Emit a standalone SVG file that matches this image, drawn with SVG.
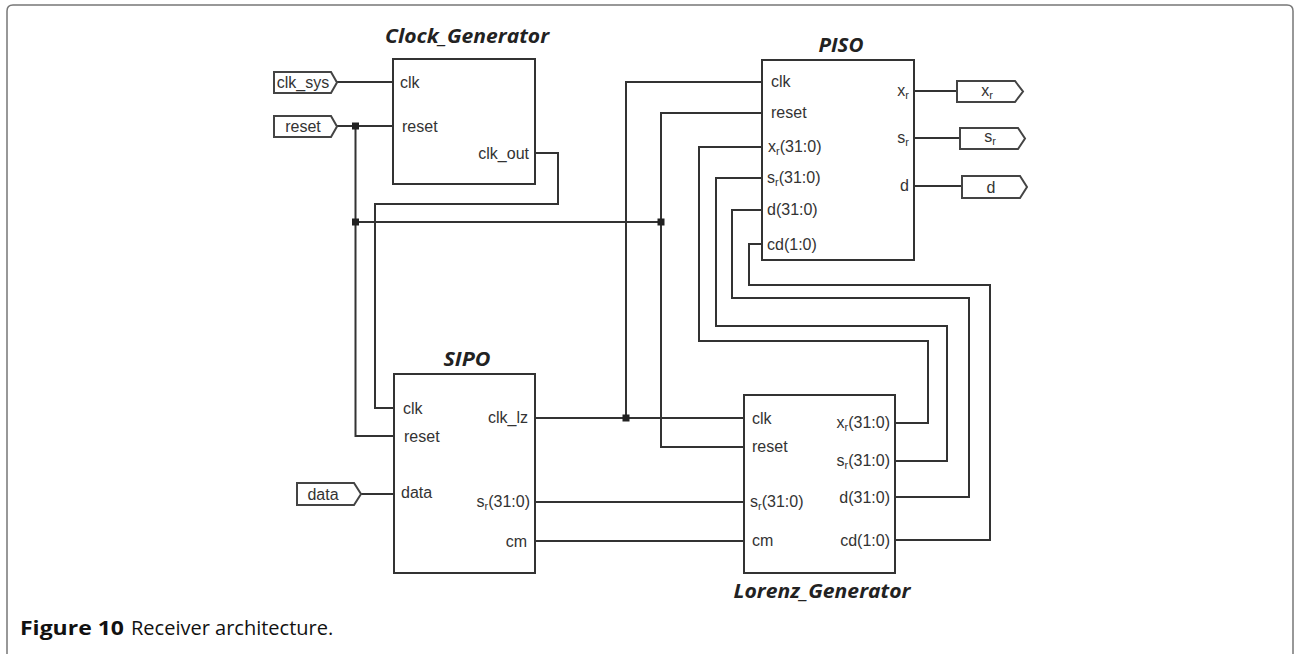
<svg xmlns="http://www.w3.org/2000/svg" width="1294" height="654" viewBox="0 0 1294 654">
<style>
.box{fill:#fff;stroke:#333;stroke-width:2}
.w{fill:none;stroke:#333;stroke-width:2}
.tag{fill:#fff;stroke:#444;stroke-width:2}
.t{font-family:"Liberation Sans",Arial,sans-serif;font-size:16px;fill:#333}
.e{text-anchor:end}
.m{text-anchor:middle}
.sub{font-size:11px}
.title{font-family:"Open Sans","Liberation Sans",sans-serif;font-size:19px;font-weight:bold;font-style:italic;fill:#222;text-anchor:middle}
.cap{font-family:"Open Sans","Noto Sans",sans-serif;font-size:20px;fill:#111}
.dot{fill:#222}
</style>
<rect width="1294" height="654" fill="#fff"/>
<path d="M7,654 V11 Q7,5 13,5 H1287 Q1293,5 1293,11 V654" fill="none" stroke="#777" stroke-width="1.5"/>

<g id="connectors">
<path class="w" d="M337,82 H393"/>
<path class="w" d="M337,126 H393"/>
<path class="w" d="M355.5,126 V436 H394"/>
<path class="w" d="M535,153 H558 V204 H375 V408 H394"/>
<path class="w" d="M355.5,222 H661"/>
<path class="w" d="M762,82 H626 V418"/>
<path class="w" d="M535,418 H744"/>
<path class="w" d="M762,113 H661 V447 H744"/>
<path class="w" d="M762,147 H699 V341 H928 V423 H895"/>
<path class="w" d="M762,178 H716 V326 H947 V461 H895"/>
<path class="w" d="M762,210 H732 V298 H969 V497 H895"/>
<path class="w" d="M762,244 H749 V285 H990 V540 H895"/>
<path class="w" d="M535,502 H744"/>
<path class="w" d="M535,541 H744"/>
<path class="w" d="M361,494 H394"/>
<path class="w" d="M914,91 H957"/>
<path class="w" d="M914,138 H960"/>
<path class="w" d="M914,186 H962"/>
<rect class="dot" x="352" y="122.5" width="7" height="7"/>
<rect class="dot" x="352" y="218.5" width="7" height="7"/>
<rect class="dot" x="657.5" y="218.5" width="7" height="7"/>
<rect class="dot" x="622.5" y="414.5" width="7" height="7"/>
</g>

<g id="in_clk_sys">
<path class="tag" d="M274,72 H331 L337,82.5 L331,93 H274 Z"/>
<text class="t m" x="303" y="88">clk_sys</text>
</g>
<g id="in_reset">
<path class="tag" d="M274,116 H331 L337,126.5 L331,137 H274 Z"/>
<text class="t m" x="303" y="132">reset</text>
</g>
<g id="in_data">
<path class="tag" d="M297,483 H354 L361,494 L354,505 H297 Z"/>
<text class="t m" x="323" y="500">data</text>
</g>
<g id="out_xr">
<path class="tag" d="M957,81 H1015 L1023,91.5 L1015,102 H957 Z"/>
<text class="t m" x="987" y="96">x<tspan class="sub" dy="3">r</tspan></text>
</g>
<g id="out_sr">
<path class="tag" d="M960,128 H1018 L1025,138.5 L1018,149 H960 Z"/>
<text class="t m" x="990" y="142">s<tspan class="sub" dy="3">r</tspan></text>
</g>
<g id="out_d">
<path class="tag" d="M962,176 H1020 L1027,187 L1020,198 H962 Z"/>
<text class="t m" x="991" y="193">d</text>
</g>

<g id="Clock_Generator">
<text class="title" x="467" y="43" textLength="164" lengthAdjust="spacingAndGlyphs">Clock_Generator</text>
<rect class="box" x="393" y="59" width="142" height="125"/>
<text class="t" x="400" y="88">clk</text>
<text class="t" x="402" y="132">reset</text>
<text class="t e" x="529" y="159">clk_out</text>
</g>

<g id="PISO">
<text class="title" x="841" y="52" textLength="45" lengthAdjust="spacingAndGlyphs">PISO</text>
<rect class="box" x="762" y="60" width="152" height="200"/>
<text class="t" x="771" y="87">clk</text>
<text class="t" x="771" y="118">reset</text>
<text class="t" x="768" y="152">x<tspan class="sub" dy="3">r</tspan><tspan dy="-3">(31:0)</tspan></text>
<text class="t" x="767" y="183">s<tspan class="sub" dy="3">r</tspan><tspan dy="-3">(31:0)</tspan></text>
<text class="t" x="767" y="215">d(31:0)</text>
<text class="t" x="767" y="250">cd(1:0)</text>
<text class="t e" x="909" y="96">x<tspan class="sub" dy="3">r</tspan></text>
<text class="t e" x="909" y="143">s<tspan class="sub" dy="3">r</tspan></text>
<text class="t e" x="909" y="191">d</text>
</g>

<g id="SIPO">
<text class="title" x="467" y="366" textLength="47" lengthAdjust="spacingAndGlyphs">SIPO</text>
<rect class="box" x="394" y="374" width="141" height="199"/>
<text class="t" x="403" y="414">clk</text>
<text class="t" x="404" y="442">reset</text>
<text class="t" x="401" y="498">data</text>
<text class="t e" x="528" y="423">clk_lz</text>
<text class="t e" x="530" y="507">s<tspan class="sub" dy="3">r</tspan><tspan dy="-3">(31:0)</tspan></text>
<text class="t e" x="527" y="547">cm</text>
</g>

<g id="Lorenz_Generator">
<rect class="box" x="744" y="395" width="151" height="178"/>
<text class="t" x="752" y="424">clk</text>
<text class="t" x="752" y="452">reset</text>
<text class="t" x="750" y="507">s<tspan class="sub" dy="3">r</tspan><tspan dy="-3">(31:0)</tspan></text>
<text class="t" x="752" y="546">cm</text>
<text class="t e" x="890" y="428">x<tspan class="sub" dy="3">r</tspan><tspan dy="-3">(31:0)</tspan></text>
<text class="t e" x="890" y="466">s<tspan class="sub" dy="3">r</tspan><tspan dy="-3">(31:0)</tspan></text>
<text class="t e" x="890" y="503">d(31:0)</text>
<text class="t e" x="890" y="546">cd(1:0)</text>
<text class="title" x="822" y="598" textLength="177" lengthAdjust="spacingAndGlyphs">Lorenz_Generator</text>
</g>

<g id="caption">
<text class="cap" x="20" y="635" font-weight="bold" textLength="104" lengthAdjust="spacingAndGlyphs">Figure 10</text>
<text class="cap" x="131" y="635">Receiver architecture.</text>
</g>
</svg>
